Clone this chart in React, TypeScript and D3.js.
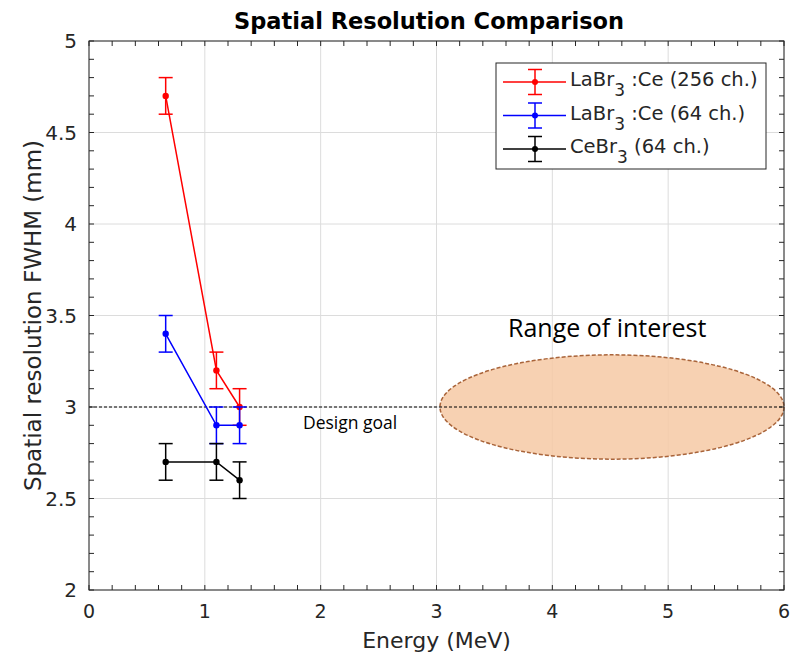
import React from "react";
import * as d3 from "d3";

const energies = [0.662, 1.1, 1.3];
const seriesNames = ["LaBr3 :Ce (256 ch.)", "LaBr3 :Ce (64 ch.)", "CeBr3 (64 ch.)"];
const seriesColors = ["#ff0000", "#0000ff", "#000000"];
const laBr256 = [4.7, 3.2, 3.0];
const laBr64 = [3.4, 2.9, 2.9];
const ceBr64 = [2.7, 2.7, 2.6];
const errLaBr256 = [0.1, 0.1, 0.1];
const errLaBr64 = [0.1, 0.1, 0.1];
const errCeBr64 = [0.1, 0.1, 0.1];
const xTicks = [0, 1, 2, 3, 4, 5, 6];
const yTicks = [2, 2.5, 3, 3.5, 4, 4.5, 5];
const designGoal = 3;
const rangeOfInterest = { x0: 3.03, x1: 6, yc: 3, ry: 0.285 };

const W = 793, H = 659;
const left = 89, right = 784, top = 41, bottom = 590;

export default function App() {
  const x = d3.scaleLinear().domain([0, 6]).range([left, right]);
  const y = d3.scaleLinear().domain([2, 5]).range([bottom, top]);
  const series = [
    { name: seriesNames[0], color: seriesColors[0], vals: laBr256, err: errLaBr256 },
    { name: seriesNames[1], color: seriesColors[1], vals: laBr64, err: errLaBr64 },
    { name: seriesNames[2], color: seriesColors[2], vals: ceBr64, err: errCeBr64 },
  ];
  const line = d3.line<[number, number]>().x(d => x(d[0])).y(d => y(d[1]));
  const xMinor = d3.range(0, 6.0001, 0.2);
  const yMinor = d3.range(2, 5.0001, 0.1);
  const axisCol = "#262626";
  const font = "DejaVu Sans, sans-serif";
  const cx = x((rangeOfInterest.x0 + rangeOfInterest.x1) / 2);
  const rx = (x(rangeOfInterest.x1) - x(rangeOfInterest.x0)) / 2;
  const ry = y(rangeOfInterest.yc - rangeOfInterest.ry) - y(rangeOfInterest.yc);
  const legendY = [82, 115.5, 149];
  const renderName = (n: string) => {
    const m = n.match(/^(\D+Br)3(.*)$/);
    if (!m) return n;
    return (
      <>
        {m[1]}
        <tspan dy={10} fontSize={17}>3</tspan>
        <tspan dy={-10}>{m[2]}</tspan>
      </>
    );
  };
  return (
    <svg width={W} height={H} style={{ position: "absolute", left: 0, top: 0 }}>
      <rect width={W} height={H} fill="#fff" />
      {/* grid */}
      {xTicks.map(t => (
        <line key={"gx" + t} x1={x(t)} x2={x(t)} y1={top} y2={bottom} stroke="#dcdcdc" strokeWidth={1} />
      ))}
      {yTicks.map(t => (
        <line key={"gy" + t} x1={left} x2={right} y1={y(t)} y2={y(t)} stroke="#dcdcdc" strokeWidth={1} />
      ))}
      {/* range of interest ellipse */}
      <ellipse cx={cx} cy={y(rangeOfInterest.yc)} rx={rx} ry={ry} fill="#f6c9a4" fillOpacity={0.85} stroke="#a9643a" strokeWidth={1.5} strokeDasharray="4,2" />
      {/* design goal */}
      <line x1={left} x2={right} y1={y(designGoal)} y2={y(designGoal)} stroke="#000" strokeWidth={1} strokeDasharray="3,2" />
      <text x={303} y={429} fontFamily="Open Sans, sans-serif" fontSize={17.5} fill="#000">Design goal</text>
      <text x={508} y={337} fontFamily="Open Sans, sans-serif" fontSize={25} fill="#000">Range of interest</text>
      {/* series */}
      {series.map(s => (
        <g key={s.name}>
          <path d={line(energies.map((e, i) => [e, s.vals[i]]) as [number, number][]) || ""} fill="none" stroke={s.color} strokeWidth={1.5} />
          {energies.map((e, i) => (
            <g key={i}>
              <line x1={x(e)} x2={x(e)} y1={y(s.vals[i] - s.err[i])} y2={y(s.vals[i] + s.err[i])} stroke={s.color} strokeWidth={1.5} />
              <line x1={x(e) - 7} x2={x(e) + 7} y1={y(s.vals[i] - s.err[i])} y2={y(s.vals[i] - s.err[i])} stroke={s.color} strokeWidth={1.5} />
              <line x1={x(e) - 7} x2={x(e) + 7} y1={y(s.vals[i] + s.err[i])} y2={y(s.vals[i] + s.err[i])} stroke={s.color} strokeWidth={1.5} />
              <circle cx={x(e)} cy={y(s.vals[i])} r={3.2} fill={s.color} />
            </g>
          ))}
        </g>
      ))}
      {/* axes box */}
      <rect x={left} y={top} width={right - left} height={bottom - top} fill="none" stroke={axisCol} strokeWidth={1} />
      {xMinor.map((t, i) => (
        <g key={"xt" + i}>
          <line x1={x(t)} x2={x(t)} y1={bottom} y2={bottom - 5} stroke={axisCol} />
          <line x1={x(t)} x2={x(t)} y1={top} y2={top + 5} stroke={axisCol} />
        </g>
      ))}
      {yMinor.map((t, i) => (
        <g key={"yt" + i}>
          <line x1={left} x2={left + 5} y1={y(t)} y2={y(t)} stroke={axisCol} />
          <line x1={right} x2={right - 5} y1={y(t)} y2={y(t)} stroke={axisCol} />
        </g>
      ))}
      {xTicks.map(t => (
        <text key={"xl" + t} x={x(t)} y={bottom + 28} textAnchor="middle" fontFamily={font} fontSize={19} fill={axisCol}>{t}</text>
      ))}
      {yTicks.map(t => (
        <text key={"yl" + t} x={left - 12} y={y(t) + 7} textAnchor="end" fontFamily={font} fontSize={20} fill={axisCol}>{t}</text>
      ))}
      <text x={(left + right) / 2} y={648} textAnchor="middle" fontFamily={font} fontSize={22} fill={axisCol}>Energy (MeV)</text>
      <text transform={`translate(41,${(top + bottom) / 2}) rotate(-90)`} textAnchor="middle" fontFamily={font} fontSize={23} fill={axisCol}>Spatial resolution FWHM (mm)</text>
      <text x={429} y={29} textAnchor="middle" fontFamily={font} fontWeight="bold" fontSize={22.5} fill="#000">Spatial Resolution Comparison</text>
      {/* legend */}
      <rect x={496} y={63} width={270} height={106} fill="#fff" stroke={axisCol} strokeWidth={1} />
      {series.map((s, i) => (
        <g key={"lg" + i}>
          <line x1={503} x2={566} y1={legendY[i]} y2={legendY[i]} stroke={s.color} strokeWidth={1.5} />
          <line x1={535} x2={535} y1={legendY[i] - 12.5} y2={legendY[i] + 12.5} stroke={s.color} strokeWidth={1.5} />
          <line x1={528} x2={542} y1={legendY[i] - 12.5} y2={legendY[i] - 12.5} stroke={s.color} strokeWidth={1.5} />
          <line x1={528} x2={542} y1={legendY[i] + 12.5} y2={legendY[i] + 12.5} stroke={s.color} strokeWidth={1.5} />
          <circle cx={535} cy={legendY[i]} r={3} fill={s.color} />
          <text x={570} y={legendY[i] + 4} fontFamily={font} fontSize={19.5} fill={axisCol}>{renderName(s.name)}</text>
        </g>
      ))}
    </svg>
  );
}
